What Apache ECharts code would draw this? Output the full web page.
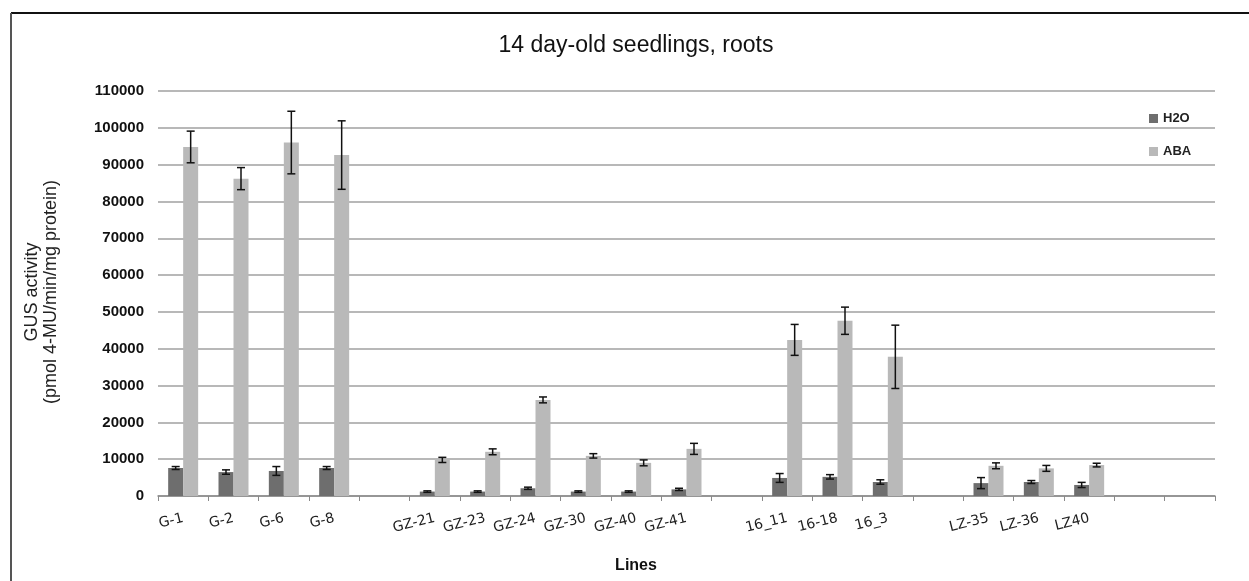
<!DOCTYPE html>
<html>
<head>
<meta charset="utf-8">
<title>GUS activity, 14 day-old seedlings, roots</title>
<script src="https://cdn.jsdelivr.net/npm/echarts@6/dist/echarts.min.js"></script>
<style>
  html, body { margin: 0; padding: 0; background: #ffffff; }
  #chart { width: 1249px; height: 581px; }
</style>
</head>
<body>
<div id="chart"></div>
<script>
// Lines tested; empty strings are the spacer slots between line groups
const categories = ['G-1', 'G-2', 'G-6', 'G-8', '',
  'GZ-21', 'GZ-23', 'GZ-24', 'GZ-30', 'GZ-40', 'GZ-41', '',
  '16_11', '16-18', '16_3', '',
  'LZ-35', 'LZ-36', 'LZ40', '', ''];

// Mean GUS activity (pmol 4-MU/min/mg protein), null for spacer slots
const h2oMean = [7600, 6500, 6800, 7600, null,
  1200, 1200, 2100, 1200, 1200, 1800, null,
  4900, 5200, 3800, null,
  3500, 3800, 3000, null, null];
const h2oErr = [400, 600, 1200, 400, null,
  200, 200, 300, 200, 200, 300, null,
  1200, 600, 600, null,
  1500, 400, 700, null, null];

const abaMean = [94800, 86200, 96000, 92600, null,
  9800, 12000, 26100, 10900, 9000, 12800, null,
  42400, 47600, 37800, null,
  8200, 7500, 8400, null, null];
const abaErr = [4300, 3000, 8500, 9300, null,
  700, 800, 800, 600, 800, 1500, null,
  4200, 3700, 8600, null,
  800, 800, 500, null, null];

const yTicks = { min: 0, max: 110000, interval: 10000 };

const BAR_W = 15;
const CAP_W = 8;

function errorSeries(mean, err, offset) {
  const data = [];
  mean.forEach((m, i) => {
    if (m != null) data.push([i, m - err[i], m + err[i]]);
  });
  return {
    type: 'custom',
    silent: true,
    z: 5,
    data: data,
    encode: { x: 0, y: [1, 2] },
    renderItem: function (params, api) {
      const idx = api.value(0);
      const lo = api.coord([idx, api.value(1)]);
      const hi = api.coord([idx, api.value(2)]);
      const x = lo[0] + offset;
      const style = { stroke: '#111111', lineWidth: 1.5 };
      return {
        type: 'group',
        children: [
          { type: 'line', shape: { x1: x, y1: lo[1], x2: x, y2: hi[1] }, style: style },
          { type: 'line', shape: { x1: x - CAP_W / 2, y1: lo[1], x2: x + CAP_W / 2, y2: lo[1] }, style: style },
          { type: 'line', shape: { x1: x - CAP_W / 2, y1: hi[1], x2: x + CAP_W / 2, y2: hi[1] }, style: style }
        ]
      };
    }
  };
}

const chart = echarts.init(document.getElementById('chart'), null, { renderer: 'canvas' });

chart.setOption({
  backgroundColor: '#ffffff',
  animation: false,
  textStyle: { fontFamily: 'Liberation Sans' },
  graphic: [
    // chart frame
    { type: 'line', shape: { x1: 11, y1: 13, x2: 1249, y2: 13 }, style: { stroke: '#111111', lineWidth: 2 } },
    { type: 'line', shape: { x1: 11, y1: 13, x2: 11, y2: 581 }, style: { stroke: '#555555', lineWidth: 2 } },
    {
      type: 'text', x: 636, y: 46,
      style: {
        text: '14 day-old seedlings, roots', align: 'center', verticalAlign: 'middle',
        font: '23px "Liberation Sans", sans-serif', fill: '#111111'
      }
    },
    {
      type: 'text', x: 42, y: 292, rotation: Math.PI / 2,
      style: {
        text: 'GUS activity\n(pmol 4-MU/min/mg protein)', align: 'center', verticalAlign: 'middle',
        font: '18px "Liberation Sans", sans-serif', lineHeight: 19, fill: '#222222'
      }
    },
    {
      type: 'text', x: 636, y: 566,
      style: {
        text: 'Lines', align: 'center', verticalAlign: 'middle',
        font: 'bold 16px "Liberation Sans", sans-serif', fill: '#111111'
      }
    }
  ],
  legend: {
    orient: 'vertical',
    left: 1144,
    top: 107,
    itemWidth: 9,
    itemHeight: 9,
    itemGap: 20,
    icon: 'rect',
    textStyle: { fontSize: 13, fontWeight: 'bold', color: '#222222', fontFamily: 'Liberation Sans' },
    data: ['H2O', 'ABA']
  },
  grid: { left: 158, right: 34, top: 91, bottom: 85, containLabel: false },
  xAxis: {
    type: 'category',
    data: categories,
    boundaryGap: true,
    axisLine: { lineStyle: { color: '#8a8a8a', width: 1.5 } },
    axisTick: { show: true, alignWithLabel: false, length: 5, lineStyle: { color: '#8a8a8a' } },
    axisLabel: {
      interval: 0, rotate: 14, margin: 22,
      fontFamily: 'DejaVu Sans', fontSize: 14, color: '#222222'
    },
    splitLine: { show: false }
  },
  yAxis: {
    type: 'value',
    min: yTicks.min, max: yTicks.max, interval: yTicks.interval,
    axisLine: { show: false },
    axisTick: { show: false },
    axisLabel: {
      margin: 14, fontFamily: 'Liberation Sans', fontWeight: 'bold', fontSize: 15, color: '#111111',
      formatter: function (v) { return String(v); }
    },
    splitLine: { lineStyle: { color: '#a0a0a0', width: 1.5 } }
  },
  series: [
    {
      name: 'H2O', type: 'bar', data: h2oMean, barWidth: BAR_W, barGap: '0%',
      itemStyle: { color: '#6e6e6e' }
    },
    {
      name: 'ABA', type: 'bar', data: abaMean, barWidth: BAR_W, barGap: '0%',
      itemStyle: { color: '#b9b9b9' }
    },
    errorSeries(h2oMean, h2oErr, -BAR_W / 2),
    errorSeries(abaMean, abaErr, BAR_W / 2)
  ]
});
</script>
</body>
</html>
